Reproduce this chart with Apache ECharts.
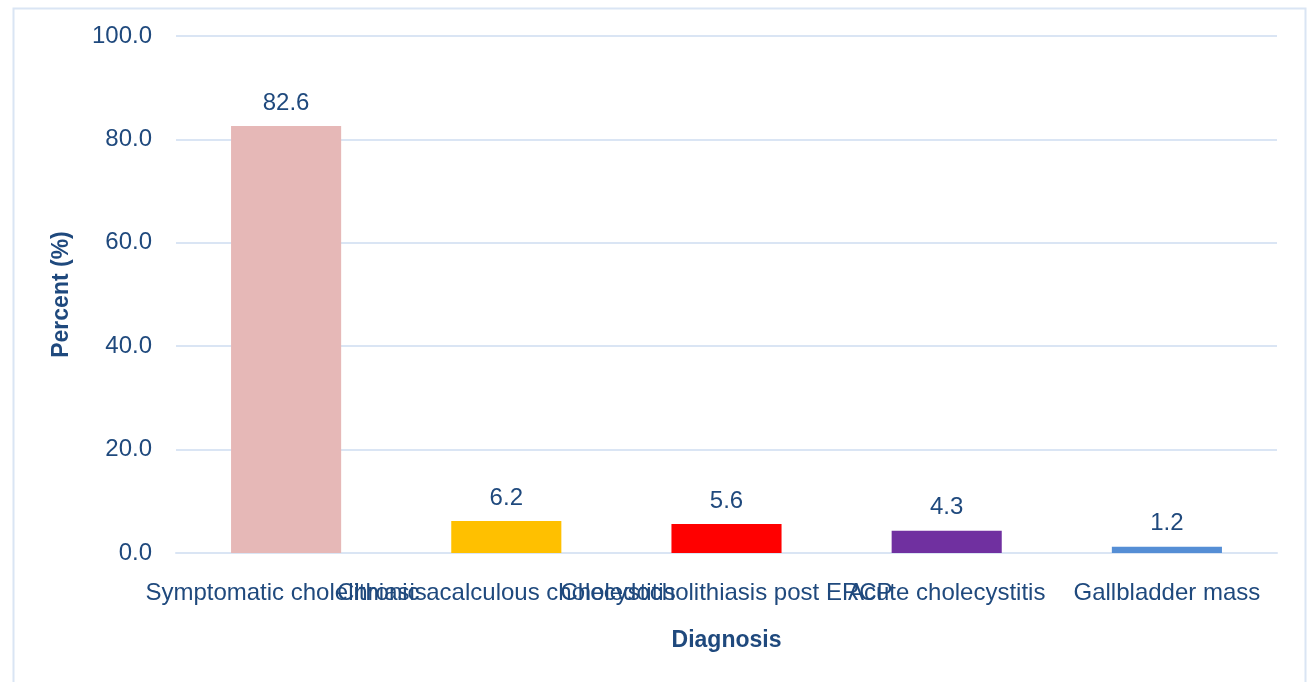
<!DOCTYPE html>
<html>
<head>
<meta charset="utf-8">
<style>
  html, body { margin: 0; padding: 0; background: #ffffff; }
  #chart { width: 1307px; height: 682px; }
</style>
<script src="https://cdn.jsdelivr.net/npm/echarts@6/dist/echarts.min.js"></script>
</head>
<body>
<div id="chart"></div>
<script>
// Diagnoses and their share of patients (%)
const categories = [
  'Symptomatic cholelithiasis',
  'Chronic acalculous cholecystitis',
  'Choledocholithiasis post ERCP',
  'Acute cholecystitis',
  'Gallbladder mass'
];
const percents = [82.6, 6.2, 5.6, 4.3, 1.2];
const barColors = ['#E6B8B7', '#FFC000', '#FF0000', '#7030A0', '#558ED5'];

const textColor = '#1F497D';
const lineColor = '#DAE5F4';
const fontFamily = 'Liberation Sans, Arial, sans-serif';

const chart = echarts.init(document.getElementById('chart'));
chart.setOption({
  animation: false,
  backgroundColor: '#ffffff',
  graphic: [{
    type: 'rect',
    left: 11, top: 6,
    shape: { width: 1292, height: 700 },
    style: { fill: 'none', stroke: lineColor, lineWidth: 2 },
    silent: true
  }],
  grid: { left: 176, right: 30, top: 36, bottom: 129, containLabel: false },
  xAxis: {
    type: 'category',
    data: categories,
    name: 'Diagnosis',
    nameLocation: 'middle',
    nameGap: 76,
    nameTextStyle: { color: textColor, fontSize: 23, fontWeight: 'bold', fontFamily: fontFamily },
    axisLine: { show: true, lineStyle: { color: lineColor, width: 2 } },
    axisTick: { show: false },
    axisLabel: {
      interval: 0, color: textColor, fontSize: 24, fontFamily: fontFamily,
      margin: 28, hideOverlap: false
    }
  },
  yAxis: {
    type: 'value',
    min: 0, max: 100, interval: 20,
    name: 'Percent (%)',
    nameLocation: 'middle',
    nameGap: 103,
    nameRotate: 90,
    nameTextStyle: { color: textColor, fontSize: 23, fontWeight: 'bold', fontFamily: fontFamily },
    axisLine: { show: false },
    axisTick: { show: false },
    axisLabel: {
      color: textColor, fontSize: 24, fontFamily: fontFamily, margin: 24,
      padding: [4, 0, 0, 0],
      formatter: v => v.toFixed(1)
    },
    splitLine: { lineStyle: { color: lineColor, width: 2 } }
  },
  series: [{
    type: 'bar',
    barWidth: '50%',
    data: percents.map((v, i) => ({ value: v, itemStyle: { color: barColors[i] } })),
    label: {
      show: true, position: 'top', distance: 11,
      color: textColor, fontSize: 24, fontFamily: fontFamily,
      formatter: p => p.value.toFixed(1)
    }
  }]
});
</script>
</body>
</html>
